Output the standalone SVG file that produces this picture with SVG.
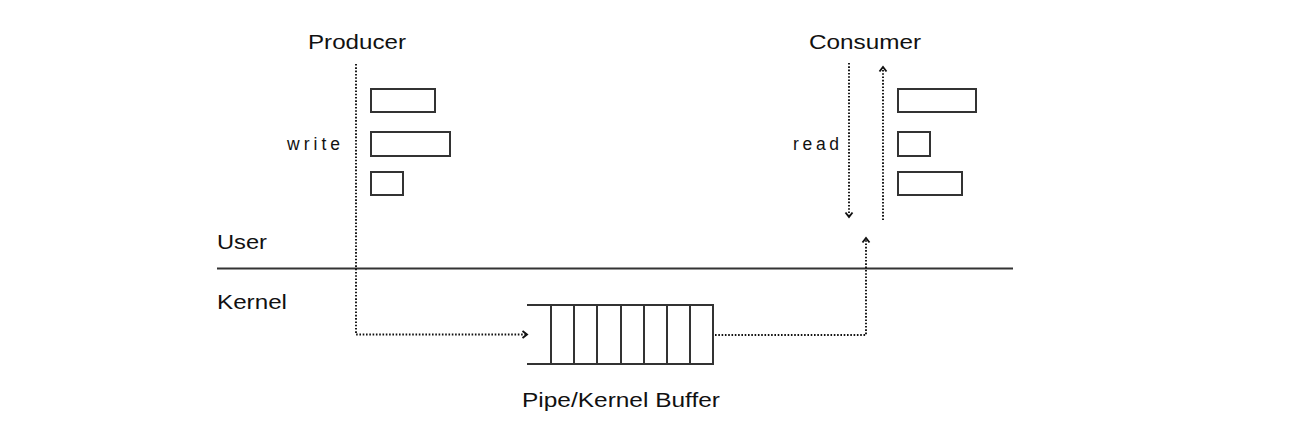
<svg xmlns="http://www.w3.org/2000/svg" width="1298" height="444" viewBox="0 0 1298 444">
<style>
.lbl{font-family:"Liberation Sans",Arial,sans-serif;font-size:20.5px;fill:#111}
.sm{font-family:"Liberation Sans",Arial,sans-serif;font-size:17.5px;fill:#111}
.box{fill:none;stroke:#333;stroke-width:2}
.dot{fill:none;stroke:#111;stroke-width:1.9;stroke-dasharray:1.6 1.7}
.solid{fill:none;stroke:#333;stroke-width:2}
</style>
<defs>
<marker id="chev" viewBox="0 0 8 10" refX="6" refY="5" markerWidth="8" markerHeight="10" markerUnits="userSpaceOnUse" orient="auto">
<path d="M1.5,1.5 L6,5 L1.5,8.5" fill="none" stroke="#111" stroke-width="1.9"/>
</marker>
</defs>
<rect width="1298" height="444" fill="#fff"/>
<g id="layers">
<text class="lbl" x="217" y="249" textLength="50" lengthAdjust="spacingAndGlyphs">User</text>
<line class="solid" x1="217" y1="268.5" x2="1013" y2="268.5"/>
<text class="lbl" x="217" y="309" textLength="70" lengthAdjust="spacingAndGlyphs">Kernel</text>
</g>
<g id="producer">
<text class="lbl" x="308" y="49" textLength="98" lengthAdjust="spacingAndGlyphs">Producer</text>
<text class="sm" x="287" y="150" textLength="53" lengthAdjust="spacing">write</text>
<rect class="box" x="371" y="89" width="64" height="23"/>
<rect class="box" x="371" y="132" width="79" height="24"/>
<rect class="box" x="371" y="172" width="32" height="23"/>
</g>
<g id="consumer">
<text class="lbl" x="809" y="49" textLength="112" lengthAdjust="spacingAndGlyphs">Consumer</text>
<text class="sm" x="793" y="150" textLength="46" lengthAdjust="spacing">read</text>
<rect class="box" x="898" y="89" width="78" height="23"/>
<rect class="box" x="898" y="132" width="32" height="24"/>
<rect class="box" x="898" y="172" width="64" height="23"/>
</g>
<g id="buffer">
<line class="solid" x1="527" y1="305" x2="713" y2="305"/>
<line class="solid" x1="527" y1="364" x2="713" y2="364"/>
<path class="box" d="M551,305V364M574,305V364M597,305V364M621,305V364M644,305V364M667,305V364M690,305V364M713,304V365"/>
<text class="lbl" x="522" y="407" textLength="198" lengthAdjust="spacingAndGlyphs">Pipe/Kernel Buffer</text>
</g>
<g id="connectors">
<path class="dot" d="M356,64 V334.5 H527" marker-end="url(#chev)"/>
<path class="dot" d="M849,63 V217" marker-end="url(#chev)"/>
<path class="dot" d="M883,220 V67" marker-end="url(#chev)"/>
<path class="dot" d="M715,335 H866 V238" marker-end="url(#chev)"/>
</g>
</svg>
